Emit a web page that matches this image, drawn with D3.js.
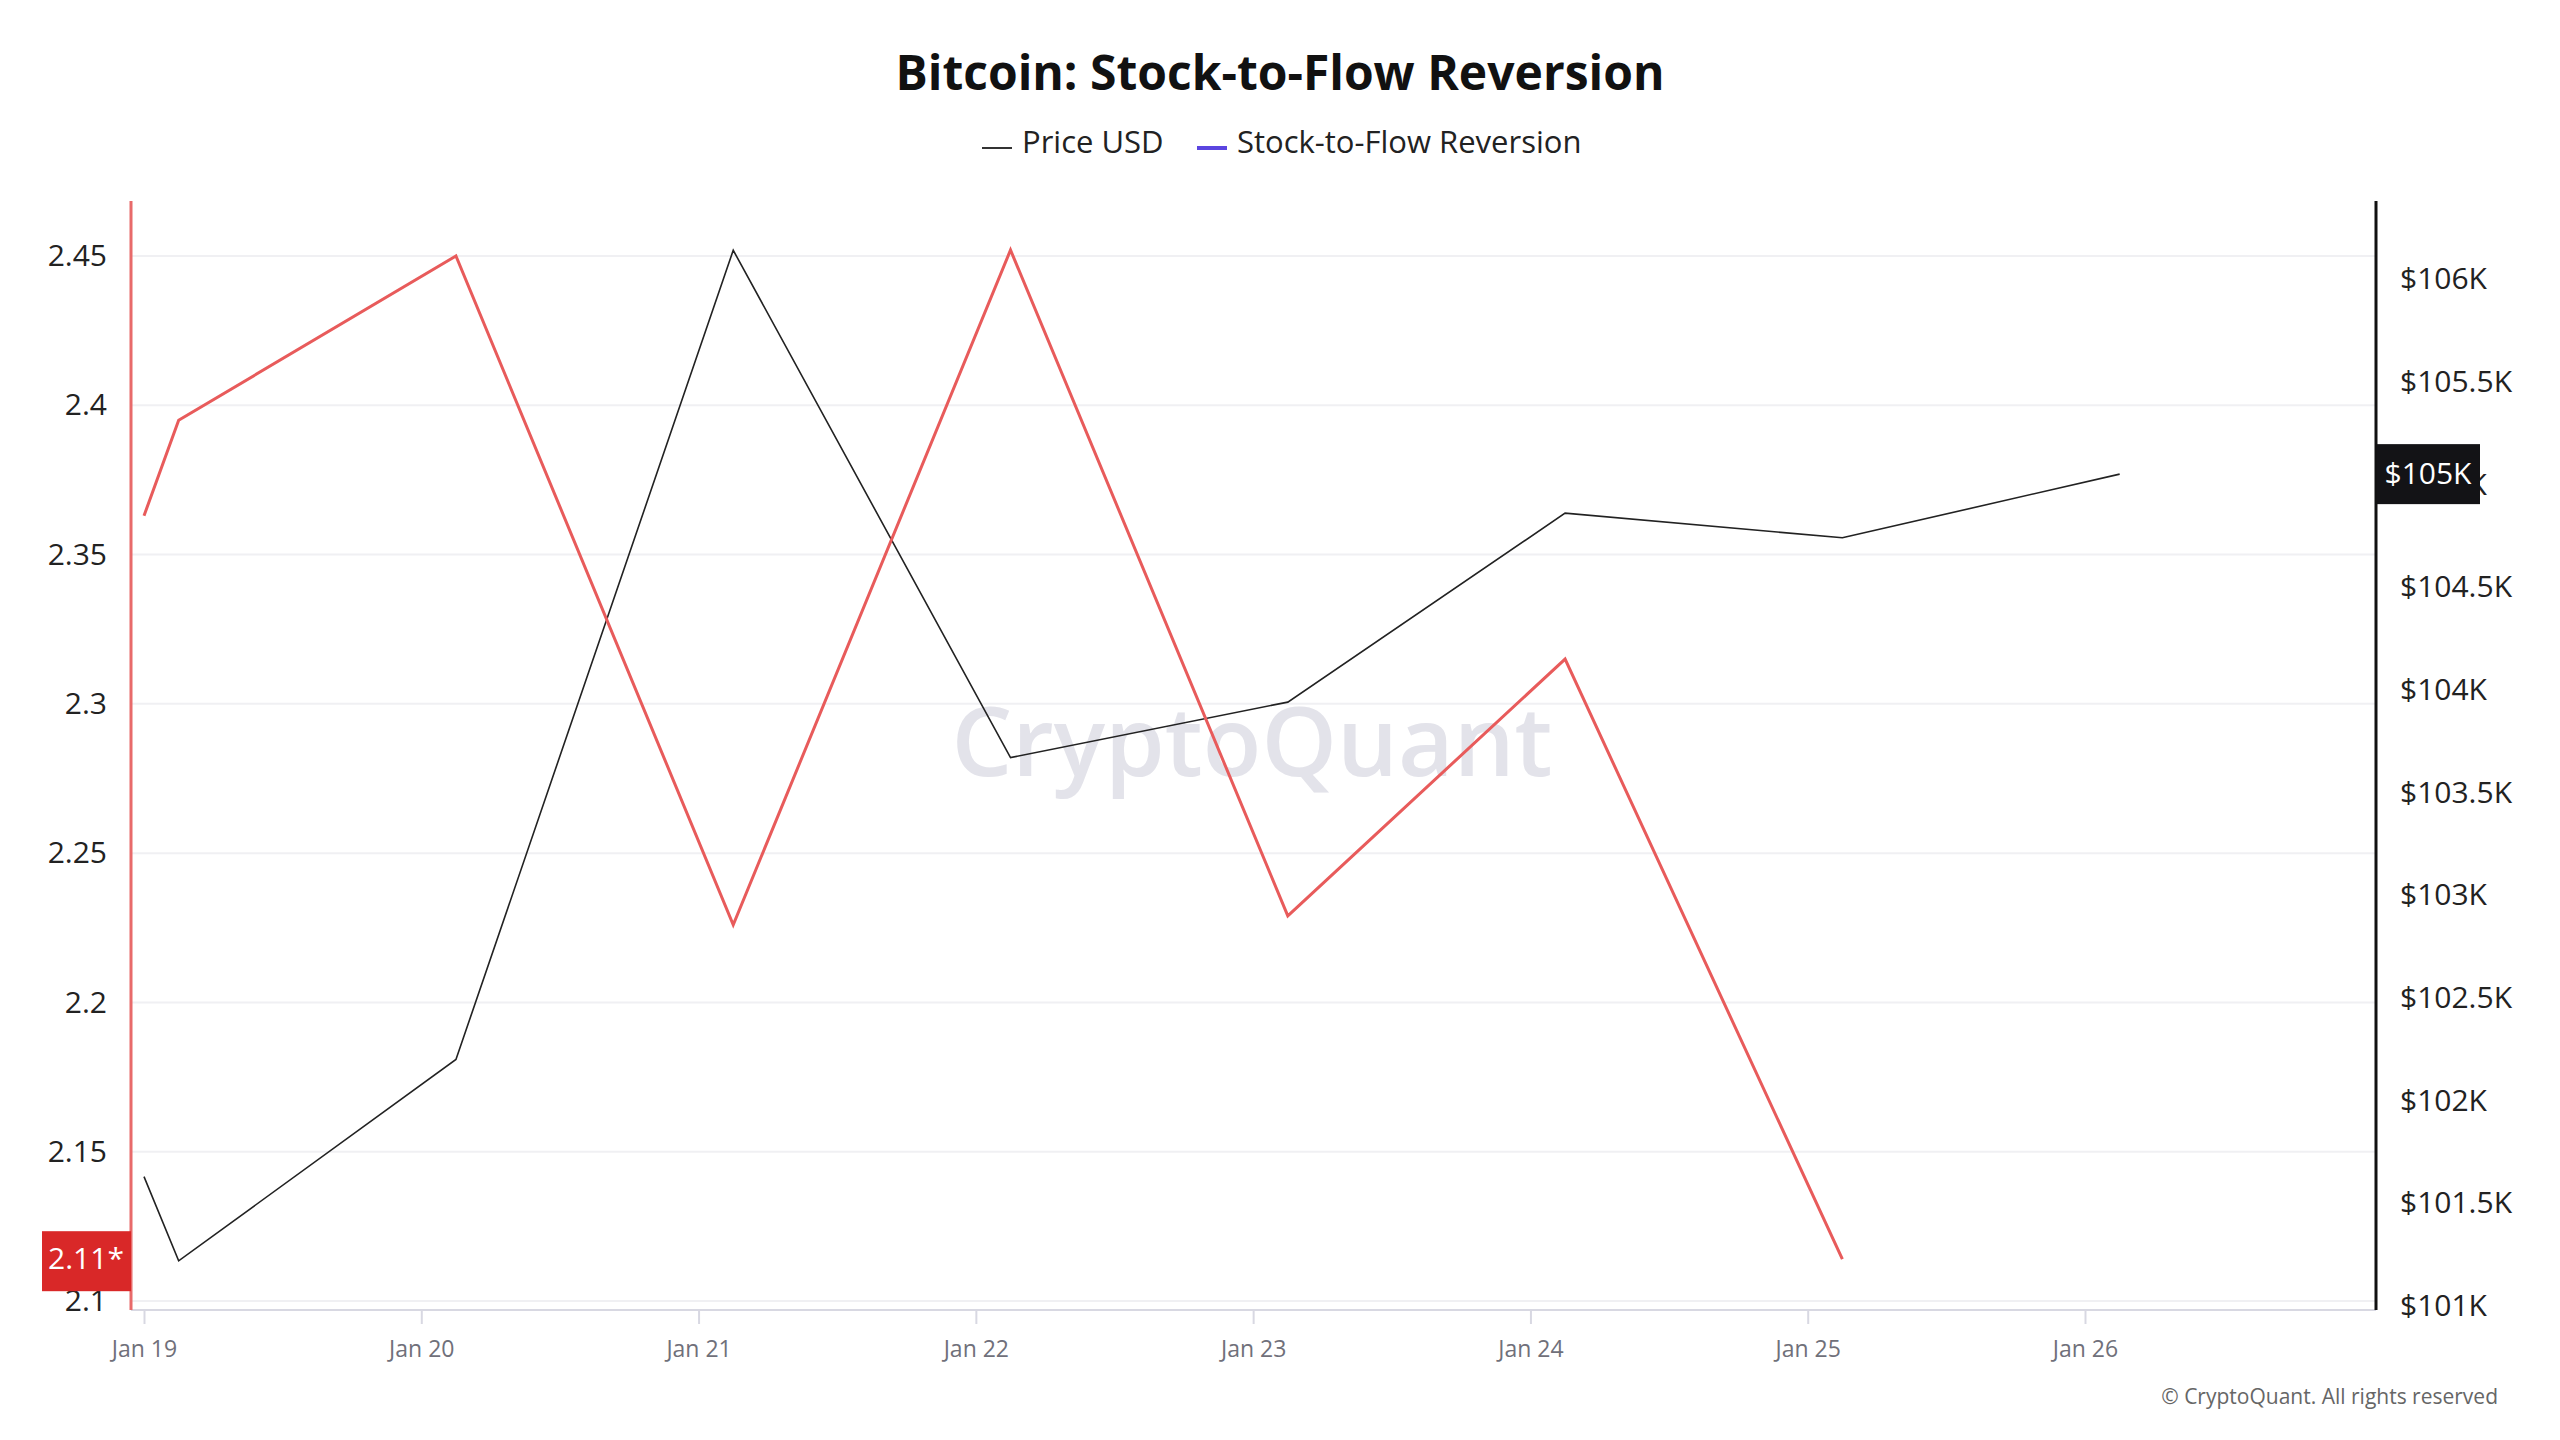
<!DOCTYPE html>
<html lang="en">
<head>
<meta charset="UTF-8">
<title>Bitcoin: Stock-to-Flow Reversion</title>
<script src="https://d3js.org/d3.v7.min.js"></script>
<style>
  body { margin: 0; background: #fff; font-family: "Open Sans", "Noto Sans", sans-serif; }
  svg text { font-family: "Open Sans", "Noto Sans", sans-serif; }
</style>
</head>
<body>
<svg id="chart" width="2560" height="1440"></svg>
<script>
// data
const times = ["2025-01-19T00:00", "2025-01-19T03:00", "2025-01-20T03:00", "2025-01-21T03:00",
  "2025-01-22T03:00", "2025-01-23T03:00", "2025-01-24T03:00", "2025-01-25T03:00", "2025-01-26T03:00"];
const priceUsd = [101630, 101220, 102200, 106140, 103670, 103940, 104860, 104740, 105050];
const s2fReversion = [2.363, 2.395, 2.45, 2.226, 2.452, 2.229, 2.315, 2.114, null];
const leftTicks = [2.1, 2.15, 2.2, 2.25, 2.3, 2.35, 2.4, 2.45];
const rightTicks = [101000, 101500, 102000, 102500, 103000, 103500, 104000, 104500, 105000, 105500, 106000];
const xTicks = ["2025-01-19", "2025-01-20", "2025-01-21", "2025-01-22", "2025-01-23", "2025-01-24", "2025-01-25", "2025-01-26"];

const parse = d3.timeParse("%Y-%m-%dT%H:%M");
const parseDay = d3.timeParse("%Y-%m-%d");
const svg = d3.select("#chart");
const plotLeft = 131, plotRight = 2376, plotTop = 201, plotBottom = 1310;

const x = d3.scaleTime()
  .domain([parseDay("2025-01-19"), parseDay("2025-01-26")])
  .range([144, 2085]);
const yL = d3.scaleLinear().domain([2.1, 2.45]).range([1301, 256]);
const yR = d3.scaleLinear().domain([101000, 106000]).range([1306, 279]);

// grid
svg.append("g").selectAll("line").data(leftTicks).join("line")
  .attr("x1", plotLeft).attr("x2", plotRight)
  .attr("y1", d => yL(d)).attr("y2", d => yL(d))
  .attr("stroke", "#f0f0f3").attr("stroke-width", 2);

// watermark
svg.append("text").attr("x", 1252).attr("y", 776).attr("text-anchor", "middle")
  .attr("font-size", 96).attr("font-weight", 600).attr("fill", "#e3e3ea")
  .text("CryptoQuant");

// x axis
const xAxis = svg.append("g").attr("transform", `translate(0,${plotBottom})`)
  .call(d3.axisBottom(x).tickValues(xTicks.map(parseDay)).tickSize(14).tickSizeOuter(0));
xAxis.attr("font-family", null);
xAxis.select(".domain").attr("d", `M${plotLeft},0H${plotRight}`).attr("stroke", "#d8d8e2").attr("stroke-width", 2);
xAxis.selectAll(".tick line").attr("stroke", "#d8d8e2").attr("stroke-width", 2);
xAxis.selectAll(".tick text").attr("font-size", 23).attr("fill", "#70707a").attr("dy", 30)
  .text(d => "Jan " + d.getDate());

// left axis
const yAxisL = svg.append("g").attr("transform", `translate(${plotLeft},0)`)
  .call(d3.axisLeft(yL).tickValues(leftTicks).tickFormat(d3.format("")).tickSize(0).tickPadding(24));
yAxisL.attr("font-family", null);
yAxisL.select(".domain").attr("d", `M0,${plotTop}V${plotBottom}`).attr("stroke", "#e86a6a").attr("stroke-width", 3);
yAxisL.selectAll(".tick text").attr("font-size", 30).attr("fill", "#222");

// right axis
const yAxisR = svg.append("g").attr("transform", `translate(${plotRight},0)`)
  .call(d3.axisRight(yR).tickValues(rightTicks).tickFormat(d => "$" + d3.format("")(d / 1000) + "K").tickSize(0).tickPadding(24));
yAxisR.attr("font-family", null);
yAxisR.select(".domain").attr("d", `M0,${plotTop}V${plotBottom}`).attr("stroke", "#111").attr("stroke-width", 3);
yAxisR.selectAll(".tick text").attr("font-size", 30).attr("fill", "#222");

// lines
const pts = times.map((t, i) => ({ t: parse(t), p: priceUsd[i], s: s2fReversion[i] }));
svg.append("path").datum(pts)
  .attr("fill", "none").attr("stroke", "#222").attr("stroke-width", 1.6)
  .attr("d", d3.line().x(d => x(d.t)).y(d => yR(d.p)));
svg.append("path").datum(pts.filter(d => d.s != null))
  .attr("fill", "none").attr("stroke", "#e85b5b").attr("stroke-width", 3)
  .attr("d", d3.line().x(d => x(d.t)).y(d => yL(d.s)));

// current value labels
const lastS = s2fReversion.filter(d => d != null).slice(-1)[0];
svg.append("rect").attr("x", 42).attr("y", yL(lastS) - 28).attr("width", 89).attr("height", 60).attr("fill", "#d92828");
svg.append("text").attr("x", 86).attr("y", yL(lastS) + 2).attr("text-anchor", "middle").attr("dominant-baseline", "middle")
  .attr("font-size", 30).attr("fill", "#fff").text(d3.format(".2f")(lastS) + "*");
const lastP = priceUsd[priceUsd.length - 1];
svg.append("rect").attr("x", plotRight + 1).attr("y", yR(lastP) - 30).attr("width", 103).attr("height", 60).attr("fill", "#131316");
svg.append("text").attr("x", plotRight + 52).attr("y", yR(lastP) + 2).attr("text-anchor", "middle").attr("dominant-baseline", "middle")
  .attr("font-size", 30).attr("fill", "#fff").text("$" + Math.round(lastP / 1000) + "K");

// title
svg.append("text").attr("x", 1280).attr("y", 90).attr("text-anchor", "middle")
  .attr("font-size", 48).attr("font-weight", 700).attr("fill", "#111").text("Bitcoin: Stock-to-Flow Reversion");

// legend
const legend = [{ name: "Price USD", color: "#333", w: 2 }, { name: "Stock-to-Flow Reversion", color: "#5b45e0", w: 4 }];
const lx = [982, 1197];
legend.forEach((d, i) => {
  svg.append("line").attr("x1", lx[i]).attr("x2", lx[i] + 30).attr("y1", 148).attr("y2", 148)
    .attr("stroke", d.color).attr("stroke-width", d.w);
  svg.append("text").attr("x", lx[i] + 40).attr("y", 145).attr("dominant-baseline", "middle")
    .attr("font-size", 31).attr("fill", "#222").text(d.name);
});

// footer
svg.append("text").attr("x", 2498).attr("y", 1404).attr("text-anchor", "end")
  .attr("font-size", 21).attr("fill", "#666").text("© CryptoQuant. All rights reserved");
</script>
</body>
</html>
